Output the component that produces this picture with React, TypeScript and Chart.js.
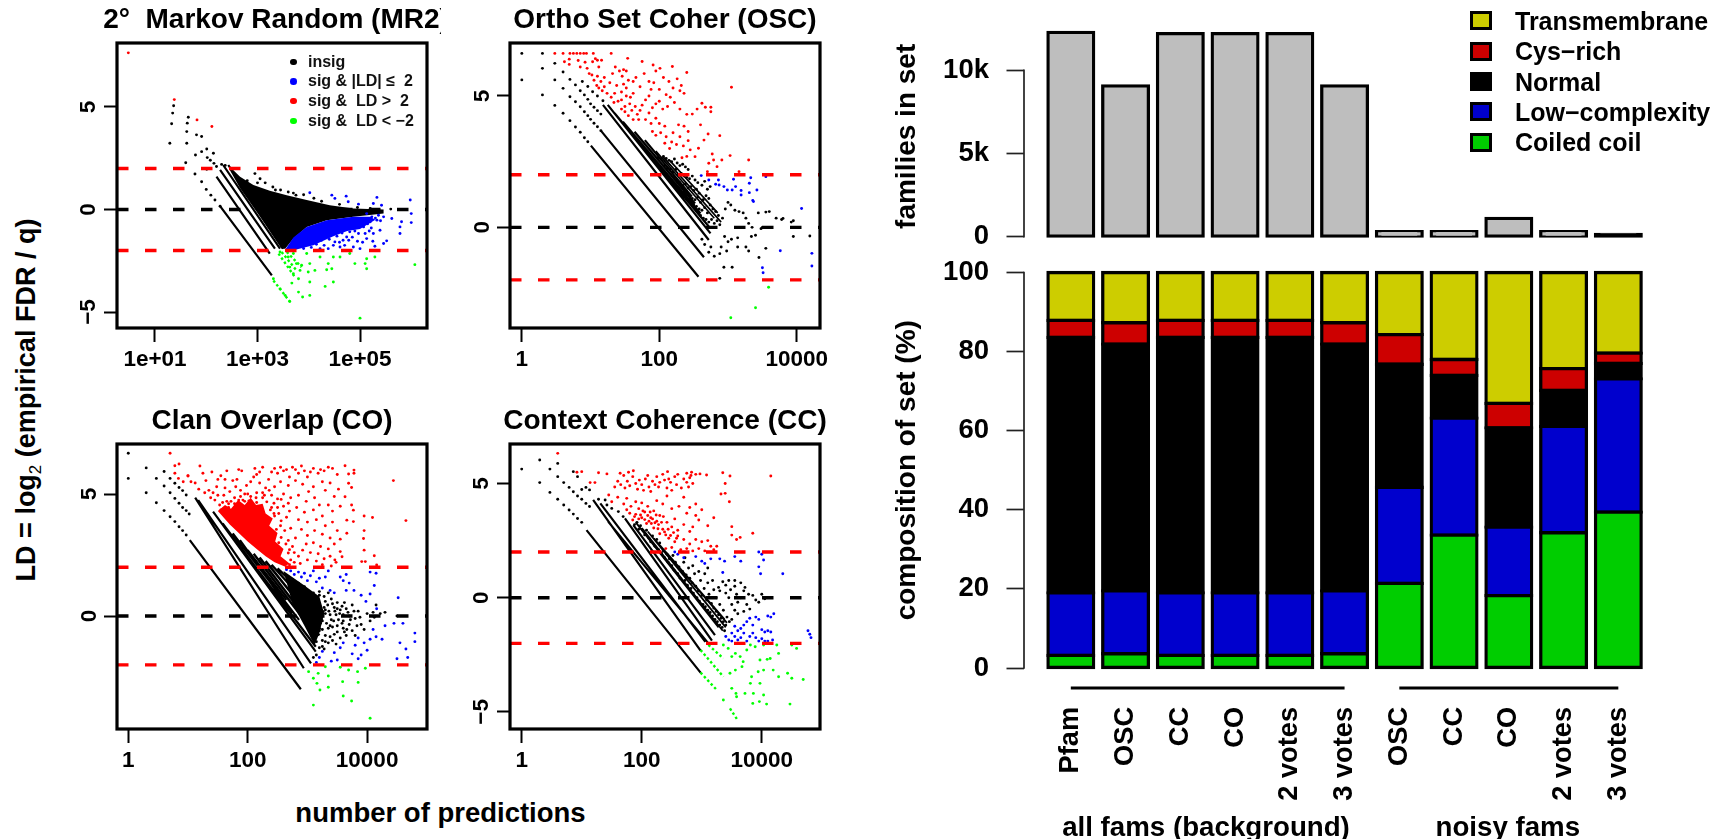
import React, { useEffect, useRef } from "react";
import { Chart, registerables } from "chart.js";
Chart.register(...registerables);

const F = "'Liberation Sans', Arial, sans-serif";
type P = number[];

// ---------- 2° Markov Random (x = log10 of number of predictions, y = LD) ----------
const mr2Red: P[] = [[.48,7.64],[1.377,5.36],[1.82,4.37],[2.11,4.05]];
const mr2Black: P[] = [[1.364,5.06],[1.345,4.7],[1.325,4.18],[1.29,3.23],[1.65,4.5],[1.63,4.21],[1.62,3.8],[1.62,3.23],[1.81,3.64],[1.91,3.56],[1.6,2.28],[1.79,2.66],[1.78,1.73],[1.91,2.82],[2.01,2.95],[2.02,2.53],[2.14,2.74],[2.15,2.25],[2.01,1.96],[1.91,1.35],[2,.98],[2.09,.7],[2.17,.46],[2.27,.16],[2.08,2.4],[2.2,2.1],[2.3,2.2],[2.37,2.15],[2.95,1.75],[3.05,1.5],[3.15,1.3],[3.3,1.1],[3.45,.95],[3.6,.85],[3.75,.7],[3.9,.72],[4.1,.55],[4.25,.4],[4.6,.25],[4.95,.1],[5.2,.05],[5.6,.02],[5.8,0],[2.8,1.4],[3,1.3],[3.35,.95],[3.7,.8]];
const mr2Lines: P[] = [[2.27,.16,3.28,-3.21],[2.2,1.6,3.24,-2.15],[2.27,1.93,3.34,-1.91],[2.33,2.17,3.44,-1.91],[2.43,2.17,3.5,-1.91]];
const mr2BlackArea: P[] = [[2.46,2.09],[2.66,1.6],[2.92,1.19],[3.24,.91],[3.57,.7],[3.96,.46],[4.41,.21],[4.87,.05],[5.46,0],[5.46,-.2],[4.87,-.36],[4.35,-.52],[3.96,-.85],[3.7,-1.42],[3.54,-1.91],[3.47,-1.91],[3.05,-.36],[2.66,1.03],[2.46,1.93]];
const mr2BlueArea: P[] = [[3.54,-1.96],[3.7,-1.37],[3.96,-.85],[4.35,-.52],[4.87,-.36],[5.2,-.36],[5.3,-.5],[5.0,-.95],[4.75,-1.05],[4.48,-1.3],[4.09,-1.75],[3.7,-1.99]];
const mr2Blue: P[] = [[4.02,.82],[4.45,.7],[4.51,.54],[4.73,.65],[4.77,.38],[4.97,.26],[5.33,.59],[5.26,.29],[5.42,.21],[5.98,.46],[5.86,0],[6,-.2],[6,-.64],[5.81,-.6],[5.78,-.85],[5.78,-1.17],[5.62,-.44],[5.52,-1.53],[5.46,-1.66],[5.29,-1.79],[5.39,-1.01],[5.26,-1.17],[5.13,-1.42],[5,-1.91],[4.87,-1.83],[4.74,-1.34],[4.61,-1.83],[4.51,-1.58],[4.38,-1.91],[4.22,-1.91],[5.07,-.85],[5.2,-.6],[5.33,-.52],[5.46,-.36],[4.94,-.52],[4.8,-1.09],[4.67,-1.5],[4.48,-1.75],[4.97,-1.17],[5.23,-.36],[5.36,-.28],[5.13,-.2],[4.87,-.69],[5.1,-1.17],
[3.9,-1.9],[4.05,-1.85],[4.15,-1.7],[4.3,-1.75],[4.25,-1.5],[4.4,-1.45],[4.55,-1.3],[4.65,-1.15],[4.6,-1.6],[4.75,-.95],[4.85,-1.35],[4.9,-1.05],[5,-.65],[5.05,-.45],[5.15,-.7],[5.22,-.9],[5.3,-.42],[5.18,-1.05],[5.4,-.55],[5.05,-1.6],[4.95,-1.55],[4.7,-1.75],[4.78,-1.5],[5.25,-1.55]];
const mr2Green: P[] = [[5,-5.3],[6.07,-2.69],[5.29,-2.32],[5.13,-2.4],[4.9,-2.64],[5.1,-2.64],[5.13,-2.89],[4.8,-2.15],[4.61,-2.32],[4.48,-2.32],[4.38,-2.64],[4.45,-2.89],[4.35,-2.94],[4.22,-2.32],[4.12,-2.97],[4.02,-2.64],[3.99,-3.05],[3.86,-2.72],[3.83,-2.97],[3.76,-2.64],[3.96,-2.15],[3.7,-2.15],[3.6,-2.32],[3.44,-2.07],[3.63,-2.81],[3.7,-3.13],[3.8,-3.38],[3.67,-3.59],[4.02,-3.54],[4.48,-3.54],[4.32,-3.75],[4.02,-4.19],[3.88,-4.27],[3.8,-4.03],[3.63,-4.49],[3.54,-4.19],[3.44,-3.87],[3.31,-3.38]];
const mr2GreenLines: P[] = [[3.31,-3.46,3.63,-4.49],[3.41,-2.15,3.73,-3.3],[3.47,-2.07,3.76,-2.97],[3.57,-2.07,3.86,-2.81]];

// ---------- Ortho Set Coher ----------
const oscRed: P[] = [[.48,6.62],[.6,6.62],[.7,6.62],[.75,6.62],[.8,6.62],[.85,6.62],[.9,6.62],[.94,6.62],[1.04,6.62],[1.3,6.62],[1.54,6.43],[1.75,6.31],[1.91,6.18],[2.01,6.05],[2.19,6.12],[2.4,5.89],[3.05,5.33],[2.62,4.72],[2.67,4.57],[2.75,4.57],[2.75,4.4],[2.48,4.31],[2.6,3.9],[2.71,3.55],[2.88,3.49],[2.65,3.32],[2.57,3.01],[2.52,2.69],[2.77,2.79],[2.79,2.56],[3.03,2.73],[3.3,2.56],[2.91,2.56],[2.84,2.31],[2.72,2.44],[2.7,2.12],[3.16,2.12],
[.62,6.3],[.69,6.4],[.69,6.2],[.82,6.35],[.85,6.1],[.92,6.28],[.95,6.05],[.98,5.85],[1.03,6.3],[1.07,6.42],[1.1,6.36],[1.16,6.36],[1.12,6.1],[1.02,5.8],[1.05,5.6],[1.1,5.75],[1.15,5.55],[1.2,5.7],[1.09,5.4],[1.12,5.3],[1.17,5.2],[1.2,5.35],[1.24,5.1],[1.28,5.5],[1.32,5.85],[1.36,6.1],[1.42,5.95],[1.48,6],[1.52,5.95],[1.46,5.75],[1.55,5.6],[1.48,5.45],[1.52,5.3],[1.45,5.15],[1.38,5.4],[1.35,5.1],[1.3,4.95],[1.34,4.75],[1.4,4.8],[1.45,4.85],[1.52,5],[1.58,4.95],[1.62,5.1],[1.57,4.7],[1.5,4.6],[1.45,4.5],[1.5,4.4],[1.55,4.25],[1.6,4.45],[1.65,4.6],[1.68,4.3],[1.62,4.1],[1.7,4.1],[1.72,4.45],[1.75,4.65],[1.8,4.85],[1.85,5],[1.88,5.25],[1.92,5.5],[1.85,5.55],[1.72,5.35],[1.66,5.7],[1.62,5.55],[1.78,5.85],[1.95,5.95],[2.06,5.7],[2.14,5.55],[2.2,5.3],[2.3,5.2],[2.32,5.4],[2.26,5.65],[2.36,5.1],[2,5.25],[2.1,5.05],[2.16,4.95],[2,4.8],[1.95,4.7],[1.9,4.55],[2.05,4.5],[2.12,4.6],[2.22,4.75],[2.3,4.5],[2.4,4.3],[2.55,4.5],[1.85,4.35],[1.8,4.1],[1.88,3.95],[1.95,4.15],[2,3.95],[1.9,3.65],[1.95,3.5],[2.02,3.6],[2.08,3.85],[2.1,3.45],[2.18,3.25],[2.2,3.6],[2.28,3.9],[2.36,3.85],[2.42,3.65],[2.3,3.45],[2.25,3.15],[2.35,3.1],[2.42,3.3],[2.45,2.95],[2.4,2.7],[2.33,2.65],[2.15,3],[2.08,3.2]];
const oscBlack: P[] = [[0,6.62],[0,5.61],[.3,6.62],[.3,6.05],[.3,5.04],[.48,6.24],[.48,5.61],[.48,4.64],[.6,5.91],[.6,5.29],[.6,4.34],[.7,5.63],[.7,4.97],[.7,4.06],[.78,5.42],[.78,4.78],[.78,3.82],[.85,5.2],[.85,4.59],[.85,3.62],[.91,5.04],[.91,4.4],[.91,3.41],[.96,4.87],[.96,4.25],[.96,3.26],[1,4.7],[1,4.11],[1.05,4.57],[1.05,3.96],[1.1,4.44],[1.1,3.83],[1.15,4.31],[1.15,3.68],[.88,5.55],[.96,5.36],[1.03,5.16],[1.1,5],[1.18,4.82],
[1.98,2.65],[2.02,2.6],[2.06,2.7],[2.1,2.62],[2.14,2.55],[2.18,2.5],[2.22,2.6],[2.26,2.45],[2.3,2.35],[2.34,2.4],[2.38,2.3],[2.42,2.2],[2.08,2.35],[2.12,2.25],[2.16,2.2],[2.2,2.1],[2.24,2.2],[2.28,2],[2.32,2.05],[2.36,1.95],[2.4,1.9],[2.44,1.85],[2.48,1.95],[2.52,1.8],[2.56,1.7],[2.22,1.9],[2.26,1.75],[2.3,1.7],[2.34,1.6],[2.38,1.65],[2.42,1.5],[2.46,1.55],[2.5,1.4],[2.54,1.45],[2.58,1.3],[2.62,1.6],[2.66,1.75],[2.7,1.45],[2.74,1.55],[2.36,1.35],[2.4,1.25],[2.44,1.2],[2.48,1.1],[2.52,1.05],[2.56,1.15],[2.6,.95],[2.64,1.05],[2.68,1.2],[2.72,1.1],[2.5,.85],[2.54,.8],[2.58,.7],[2.62,.65],[2.66,.75],[2.7,.55],[2.74,.85],[2.78,.7],[2.82,.6],[2.86,.45],[2.6,.45],[2.64,.35],[2.68,.3],[2.72,.2],[2.76,.3],[2.8,.15],[2.84,.25],[2.88,.1],[2.92,.35],[2.96,.7],[3,.95],[3.04,.85],[3.1,.65],[3.16,.6],[3.22,.55],[3.26,.35],[3.3,.15],[3.35,0],[3.44,.55],[3.55,.58],[3.6,.6],[3.7,.35],[3.78,.3],[3.92,.2],[3.5,0],[3.48,-.05],[3.4,-.3],[3.34,-.35],[3.26,-.75],[3.14,-.4],[3.05,-.45],[3,-.55],[2.95,-.35],[2.9,-.75],[2.88,-1],[2.8,-1.1],[2.72,-.95],[2.66,-.65],[2.62,-.45],[2.75,-.75],[2.98,-.9],[3.14,-.75],[3.3,-.9],[3.45,-1.15],[3.55,-.8],[3.95,-.35],[2.94,-1.52],[3.06,-1.52],[2.88,-1.94],[4.19,-.33],[3.8,.34],[3.95,.25]];
const oscLines: P[] = [[1.005,3.11,2.57,-1.88],[1.15,3.68,2.65,-1.14],[1.18,4.66,2.72,-.48],[1.25,4.66,2.745,-.23],[1.35,4.34,2.72,.03],[1.47,4.02,2.6,.53],[1.64,3.64,2.52,.91],[1.79,3.32,2.475,1.17]];
const oscBand: P[] = [[1.95,2.9,2.8,.35],[2.05,2.7,2.9,.2],[2.15,2.55,2.85,.55]];
const oscBlue: P[] = [[2.61,1.97],[2.72,1.8],[2.86,1.8],[2.82,1.64],[2.87,1.61],[2.94,1.55],[2.99,1.42],[3.08,1.83],[3.11,1.55],[3.06,1.42],[3.19,1.4],[3.31,1.68],[3.31,1.32],[3.42,1.42],[3.33,1.89],[3.19,1.23],[3.36,1.02],[3.37,.98],[3.55,1.93],[4.07,.72],[3.76,-.89],[4.22,-.99],[4.22,-1.47],[3.5,-1.54],[3.51,-1.73]];
const oscGreen: P[] = [[3.04,-3.44],[3.4,-3.06],[3.59,-2.28]];

// ---------- Clan Overlap ----------
const coRed: P[] = [[.7,6.67],[.85,6.23],[.78,6.16],[.78,5.85],[.84,5.64],[.92,5.5],[1,5.74],[4.44,5.55],[4.65,3.91],[4.09,4.04],[3.95,4.1],[3.95,3.5],[3.94,3.18],[3.95,2.7],[3.91,2.23],[3.97,2.23],[4.12,2.47],[4.16,2.09],[3.78,5.98],[3.78,5.85],[3.63,6.16],[3.69,5.82],[3.69,5.44],[3.74,5.27],[3.63,4.89],[3.74,4.55],[3.77,4.34],[3.66,3.93],[3.77,3.87],[3.66,3.39],[3.55,2.64],[3.58,2.43],[3.46,2.3],
[1,5.75],[1.05,5.5],[1.2,6.15],[1.12,5.45],[1.18,5.2],[1.25,5.85],[1.3,5.55],[1.35,5.15],[1.4,5.9],[1.42,5.05],[1.28,5.05],[1.38,4.85],[1.45,4.75],[1.48,5.3],[1.5,5.6],[1.5,4.95],[1.53,4.55],[1.58,4.65],[1.6,4.95],[1.62,5.25],[1.55,5.75],[1.62,5.6],[1.65,5.95],[1.7,5.1],[1.72,4.7],[1.68,4.45],[1.75,4.3],[1.78,4.85],[1.8,5.3],[1.82,5.6],[1.75,5.55],[1.85,6],[1.9,5.95],[1.88,5.15],[1.92,4.75],[1.95,5],[1.98,5.35],[2,4.55],[2.05,5.5],[2.1,5.7],[2.12,6.05],[2.15,5.8],[2.2,5.9],[2.25,6.1],[2.05,4.9],[2.15,5.05],[2.2,5.45],[2.25,4.85],[2.3,5.25],[2.35,5.6],[2.4,5.9],[2.45,6.05],[2.5,5.85],[2.55,6.1],[2.6,5.95],[2.65,6],[2.7,5.7],[2.75,6.1],[2.8,6],[2.85,5.85],[2.9,6.15],[2.95,5.95],[3,5.7],[3.05,5.9],[3.1,6.05],[3.18,5.85],[3.22,6],[3.28,5.95],[3.35,6.1],[3.42,6.05],[3.5,5.8],[3.25,5.5],[3.1,5.3],[3.02,5.1],[2.92,5.4],[2.8,5.55],[2.68,5.35],[2.55,5.5],[2.45,5.3],[2.4,4.95],[2.5,4.8],[2.6,5],[2.72,4.85],[2.85,4.95],[2.98,4.7],[3.12,4.85],[3.2,4.55],[3.3,5.15],[3.38,5.45],[3.45,4.9],[3.52,5.2],[3.55,4.5],[3.42,4.3],[3.35,4.55],[3.25,4.1],[3.1,4.35],[2.95,4.25],[2.82,4.45],[2.7,4.3],[2.6,4.5],[2.52,4.2],[2.4,4.45],[2.85,3.95],[3,3.85],[3.15,3.95],[3.3,3.7],[3.42,3.85],[3.5,3.5],[3.38,3.2],[3.25,3.35],[3.12,3.5],[3,3.3],[2.9,3.55],[2.98,2.95],[3.1,3],[3.22,2.85],[3.35,2.75],[3.45,2.95],[3.55,3.15],[3.18,2.55],[3.05,2.6],[2.92,2.7],[2.85,2.45],[2.78,2.6],[3.28,2.35],[3.38,2.45],[3.15,2.25],[3,2.3],[2.88,2.15],[2.78,2.2],[2.7,2.1],[3.48,2.2],[3.25,2.1],[3.4,2.05],[2.62,2.2],[2.55,2.3],[1.55,4.35],[1.65,4.7],[1.85,4.75],[2,5],[2.25,5.05],[2.5,4.45],[2.65,4.05],[2.72,3.6],[2.8,3.2],[2.55,3.7],[2.68,3.1],[2.75,2.85],[2.45,4.1],
[2.44,4.2],[2.56,3.9],[2.48,3.55],[2.56,3.22],[2.62,3.5],[2.52,3],[2.64,2.95],[2.7,2.72],[2.68,2.58],[2.72,2.3],[2.32,4.68],[2.44,4.62],[2.56,4.78],[2.68,4.62],[1.88,4.9],[2.02,4.72],[2.14,4.85],[2.28,4.95],[2.36,5.15],[2.15,4.65],[1.95,4.7],[1.68,4.6],[1.78,4.6],[2.38,4.35]];
const coRedArea: P[] = [[1.5,4.3],[1.62,4.55],[1.72,4.4],[1.84,4.75],[1.95,4.55],[2.05,4.85],[2.14,4.55],[2.25,4.6],[2.3,4.2],[2.42,4],[2.36,3.7],[2.5,3.4],[2.46,3.05],[2.6,2.75],[2.55,2.45],[2.7,2.15],[2.62,2.03],[2.45,2.2],[2.3,2.45],[2.15,2.75],[2,3.05],[1.85,3.4],[1.7,3.75]];
const coBlackArea: P[] = [[2.6,1.85],[2.95,1.25],[3.2,.8],[3.28,.1],[3.2,-.7],[3.12,-1.2],[2.95,-.4],[2.75,.5]];
const coBlack: P[] = [[0,6.67],[0,5.64],[.3,6.07],[.3,5.05],[.47,5.64],[.47,4.64],[.6,5.92],[.6,5.33],[.6,4.32],[.7,5.64],[.7,5.05],[.7,4.07],[.78,5.44],[.78,4.82],[.78,3.87],[.85,5.27],[.85,4.62],[.85,3.66],[.91,5.14],[.91,4.45],[.91,3.5],[.97,4.96],[.97,4.32],[.97,3.32],[1.02,4.18],
[2.75,1.5],[2.85,1.35],[2.95,1.2],[3.1,.95],[3.2,.85],[3.3,.6],[3.4,.7],[3.45,.35],[3.5,.55],[3.55,.25],[3.6,.05],[3.65,.3],[3.7,0],[3.75,.45],[3.8,-.1],[3.85,.2],[3.9,-.35],[3.95,-.55],[4,.1],[4.05,-.2],[4.1,.15],[4.12,-.05],[4.15,.45],[4.22,.1],[4.3,.15],[4.5,0],[3.2,.3],[3.25,-.2],[3.3,.1],[3.35,-.5],[3.4,-.15],[3.45,-.75],[3.5,-.4],[3.55,-.9],[3.6,-.5],[3.65,-.8],[3.7,-.35],[3.75,-.6],[3.8,-.8],[3.2,-.6],[3.25,-1],[3.3,-.8],[3.35,-1.1],[3.15,-1.05],[3.2,-1.3],[3.12,.5],[3.18,0],[3.22,-.3],[3.28,.35],[3.36,.2],[3.42,-.45],[3.48,.05],[3.52,-.15],[3.58,-.3],[3.62,-.65],[3.68,.15],[3.72,-.15],[3.78,.2],[3.83,-.4],[3.88,-.05],[3.2,1],[3.28,.8],[3.35,.95],[3.42,.5],[3.5,.3],[3.15,-1.6],[3.1,-1.7],[3.28,-1.35],[3.3,.25],[3.32,-.3],[3.34,.45],[3.38,-.4],[3.38,.05],[3.44,-.2],[3.46,.2],[3.5,-.65],[3.54,.1],[3.58,.4],[3.6,-.2],[3.62,.55],[3.66,-.55],[3.25,-.55],[3.3,-1.05],[3.38,-.85],[3.42,-1.0],[3.48,-1.15],[3.25,-1.25]];
const coLines: P[] = [[1.03,3.11,2.89,-3],[1.12,4.85,2.94,-2.14],[1.17,4.75,3.06,-1.94],[1.42,4.28,3.14,-1.46],[1.58,3.8,3.14,-1.26],[1.75,3.39,2.86,-.16],[1.87,3.11,2.75,.11],[2,2.7,2.65,.66]];
const coBand: P[] = [[2.1,2.55,3.16,-.85],[2.2,2.4,3.2,-.8],[2.3,2.25,3.22,-.55],[2.4,2.1,3.25,-.2],[2.5,1.95,3.28,.15]];
const coBlue: P[] = [[2.65,1.9],[2.72,1.85],[2.78,1.7],[2.85,1.8],[2.9,1.6],[2.95,1.75],[3,1.45],[3.05,1.65],[3.1,1.85],[3.15,1.4],[3.2,1.55],[3.25,1.15],[3.3,1.6],[3.35,1.85],[3.38,1.05],[3.45,.95],[3.55,1.6],[3.6,1.45],[3.65,1.7],[3.7,1.35],[3.78,1.05],[3.65,1.05],[3.9,.85],[3.98,.6],[4.05,.9],[4.12,1.25],[4.15,1.75],[4.05,1.8],[4.52,.75],[4.16,.3],[4.6,-.3],[4.45,-.3],[4.8,-.7],[4.8,-1.05],[4.55,-1.1],[4.65,-1.35],[4.68,-1.7],[4.5,-1.75],[4.25,-.95],[4.15,-.85],[4.05,-.95],[3.95,-1.1],[3.85,-.9],[3.8,-1.2],[3.75,-1.55],[3.6,-1.1],[3.55,-1.3],[3.45,-1.5],[3.5,-1.8],[3.4,-1.85],[3.25,-1.45],[3.2,-1.7],[3.15,-1.9],[4,-1.4],[3.9,-1.6],[3.85,-1.75],[4.3,-.4],[4.1,-.55]];
const coGreen: P[] = [[3.1,-3.65],[4.05,-4.19],[3.6,-3.28],[3.74,-3.48],[3.35,-2.92],[3.21,-3.03],[3.59,-2.69],[3.85,-2.72],[3.84,-2.28],[3.97,-2.14],[3.69,-2.21],[3.55,-2.1],[3.35,-2.46],[3.18,-2.35],[3.1,-2.55],[3.02,-2.28],[3.16,-2.76],[3.3,-2.08]];

// ---------- Context Coherence ----------
const ccRed: P[] = [[.6,6.32],[.92,5.49],[1,5.52],[1.14,5.04],[1.22,5.04],[1.28,5.47],[1.42,5.42],[1.64,5.45],[1.78,5.49],[1.86,5.56],[2.43,5.52],[2.83,5.49],[2.97,5.42],[3.08,5.37],[3.35,5.47],[3.47,5.33],[4.15,5.33],[3.46,4.2],[3.39,5],[3.39,4.57],[3.32,4.54],[3.5,3.11],[3.5,2.74],[3.58,2.55],[3.64,2.64],[3.85,2.82],
[1.55,4.85],[1.6,5.1],[1.65,4.95],[1.7,5.35],[1.72,4.8],[1.76,5.1],[1.8,4.9],[1.85,5.3],[1.9,5],[1.93,4.75],[1.96,5.15],[2,4.95],[2.03,4.7],[2.06,5.2],[2.1,5.35],[2.12,4.85],[2.15,4.65],[2.18,5.1],[2.22,4.95],[2.25,5.3],[2.28,4.85],[2.3,5.05],[2.35,5.4],[2.38,5.15],[2.42,4.8],[2.45,5.2],[2.48,5.05],[2.5,4.7],[2.55,5.3],[2.58,4.95],[2.6,5.4],[2.66,4.8],[2.7,5.2],[2.75,5.45],[2.8,5.25],[2.85,5],[2.9,5.4],[2.75,5.05],[2.78,4.85],[2.82,5.35],[1.45,4.5],[1.5,4.2],[1.6,4.4],[1.7,4.1],[1.75,4.35],[1.82,4],[1.9,4.2],[1.95,3.9],[2,4.15],[2.05,3.75],[2.1,4],[2.15,3.5],[2.2,3.8],[2.25,4.25],[2.3,3.6],[2.35,4.1],[2.42,4.45],[2.5,3.9],[2.55,3.45],[2.62,4],[2.7,4.4],[2.75,3.7],[2.8,3.95],[2.9,4.1],[3,3.85],[3.1,3.15],[3.2,3.5],[2.95,3.4],[2.85,3.1],[2.9,3.6],[2.8,2.9],[2.7,3.2],[2.6,2.95],[2.5,3.1],[2.42,3.3],[2.35,3],[2.28,3.2],[2.2,3.05],[1.9,3.65],[1.95,3.45],[2,3.5],[1.85,3.4],[2.08,3.25],[2.12,3.35],[2.18,3.45],[2.25,3.35],[2.3,2.8],[2.4,2.75],[2.45,2.6],[2.55,2.45],[2.6,2.7],[2.7,2.55],[2.8,2.35],[2.9,2.55],[3,2.45],[3.1,2.5],[3.15,2.25],[3.25,2.25],[2.4,2.15],[2.5,2.2],[2.65,2.1],[2.75,2.15],[2.85,2.05],[2.95,2.15],[3.05,2.05],[3.2,2.1],[1.8,3.7],[1.75,3.85],
[1.88,3.55],[1.98,3.62],[2.05,3.42],[2.1,3.6],[2.16,3.25],[2.22,3.28],[2.27,3.02],[2.33,3.3],[2.38,2.88],[2.44,3],[2.48,2.72],[2.53,2.85],[2.58,2.6],[2.02,3.8],[2.14,3.75],[2.24,3.62],[2.36,3.55]];
const ccBlack: P[] = [[0,5.63],[.3,6.03],[.3,5.04],[.47,5.63],[.47,4.61],[.6,5.88],[.6,5.3],[.6,4.31],[.7,5.04],[.7,4.06],[.79,4.83],[.79,3.84],[.86,5.52],[.86,4.64],[.86,3.66],[.93,5.3],[.93,4.45],[.93,3.47],[1,4.74],[1,4.31],[1,3.3],[1.07,4.83],[1.07,4.13],[1.13,4.72],[1.13,3.99],[1.28,4.31],[1.39,4.28],[1.42,4.06],[1.5,3.91],[1.61,3.77],[1.69,3.55],
[1.88,3.2],[1.92,3.3],[1.95,3],[1.98,3.15],[2.02,2.95],[2.05,2.75],[2.08,2.95],[2.12,2.6],[2.15,2.45],[2.18,2.7],[2.22,2.25],[2.25,2.55],[2.28,2.1],[2.3,2.4],[2.33,1.95],[2.36,2.05],[2.38,1.75],[2.42,1.9],[2.44,1.55],[2.46,1.7],[2.5,1.4],[2.52,1.85],[2.54,1.2],[2.56,1.55],[2.6,1.05],[2.62,1.35],[2.64,.85],[2.68,1.15],[2.7,1.55],[2.72,.75],[2.74,1],[2.76,.55],[2.78,1.3],[2.8,.85],[2.82,.4],[2.84,.65],[2.86,.2],[2.88,1.05],[2.9,.5],[2.92,0],[2.94,.3],[2.96,-.15],[2.98,.75],[3,.1],[3.02,-.3],[3.04,.4],[3.06,-.4],[3.08,-.1],[3.1,-.55],[3.12,.15],[3.14,-.65],[3.16,-.25],[3.18,-.8],[3.2,-.45],[3.22,-.95],[3.24,-.6],[3.26,-1.05],[3.28,-.75],[3.3,-1.2],[3.32,-.9],[3.34,-1.3],[3.36,-1.05],[3.38,-1.45],[3.4,-1.2],[3.24,0],[3.3,-.3],[3.36,-.55],[3.42,-.85],[3.46,-1.05],[3.5,-.95],[3.2,.35],[3.3,.3],[3.4,.2],[3.45,0],[3.5,-.3],[3.55,-.55],[3.6,-.2],[3.65,0],[3.7,.3],[3.78,.15],[3.85,.1],[3.9,-.1],[3.95,-.2],[4,.15],[4.05,-.05],[3.35,.7],[3.45,.75],[3.55,.75],[3.65,.65],[3.72,.45],[3.4,.55],[3.55,.5],[3.8,-.5],[3.75,-.3],[3.6,-.7],[3.7,-.6],[3.48,.35],[3.58,.15],[3.28,.45],[2.72,1.75],[2.85,1.4],[2.95,1.15],[3.05,1.05],[3.1,.65],[3.18,.75],[3.1,1.3]];
const ccLines: P[] = [[1.08,2.96,2.98,-3.28],[1.19,4.28,2.98,-2.32],[1.31,4.13,3.06,-1.93],[1.44,3.33,3.11,-2],[1.72,3.47,3.17,-1.88],[1.86,3.18,3.22,-1.64]];
const ccBand: P[] = [[1.9,3.3,3.28,-1.3],[2,3.05,3.35,-1.45],[2.1,2.9,3.4,-1.3],[2.2,2.6,3.35,-.9],[2.3,2.3,3.38,-.95],[2.42,1.95,3.42,-1.1]];
const ccBlue: P[] = [[2.55,2],[2.6,1.9],[2.7,1.75],[2.9,1.8],[3,1.6],[3.05,1.5],[3.15,1.7],[3.3,1.7],[3.38,1.6],[3.55,1.8],[3.65,1.6],[3.95,2],[4,1.9],[4.03,1.65],[4.35,1.05],[3.95,1.35],[3.98,1.05],[3.35,1.1],[3.55,-1.25],[3.6,-1.45],[3.65,-1.35],[3.7,-1.2],[3.75,-1.05],[3.8,-.9],[3.85,-1.2],[3.9,-.85],[3.95,-.95],[4,-1.4],[4.05,-1.5],[3.4,-1.7],[3.45,-1.85],[3.5,-1.9],[3.5,-1.55],[3.55,-1.7],[3.6,-1.85],[3.65,-1.75],[3.7,-1.55],[3.75,-1.9],[3.8,-1.7],[3.85,-1.55],[3.9,-1.75],[3.95,-1.9],[4,-1.8],[4.1,-.8],[4.15,-.85],[4.2,-.7],[4.1,-1.45],[4.15,-1.5],[4.18,-1.85],[4.1,-1.9],[4.05,-1.9],[4.77,-1.45],[4.8,-1.6],[4.82,-1.75]];
const ccGreen: P[] = [[4.69,-3.58],[4.47,-4.66],[4.43,-3.31],[4.5,-3.53],[4.5,-2.07],[4.58,-2.22],[4.28,-2.44],[4.09,-2.7],[3.97,-2.73],[4.08,-4.66],[3.96,-4.55],[3.85,-4.63],[4.03,-4.26],[4.28,-3.46],[4.19,-3.17],[4.03,-3.17],[3.94,-3.24],[3.83,-3.46],[3.81,-3.75],[3.97,-3.75],[3.86,-4.19],[3.72,-4.19],[3.58,-4.34],[3.5,-3.97],[3.36,-4.48],[3.57,-4.19],[3.47,-3.31],[3.56,-3.17],[3.67,-3.02],[3.69,-2.8],[3.64,-2.58],[3.56,-2.44],[3.5,-2.58],[3.44,-2.22],[3.36,-2.07],[3.75,-2.29],[3.81,-2.07],[3.89,-2.15],[4.03,-2.07],[4.14,-2.66],[4.25,-2.07]];
const ccGreenLines: P[] = [[2.98,-2.29,3.36,-3.46],[2.98,-3.28,3.25,-4.04],[3.11,-2.07,3.36,-2.66],[3.47,-4.85,3.59,-5.33]];

// ---------- Bars ----------
const barLabels = ["Pfam", "OSC", "CC", "CO", "2 votes", "3 votes", "OSC", "CC", "CO", "2 votes", "3 votes"];
const familiesInSet = [12280, 9060, 12200, 12200, 12200, 9060, 300, 300, 1100, 300, 140];
const familyTicks = [0, 5000, 10000];
const compTicks = [0, 20, 40, 60, 80, 100];
const coiled = [3.2, 3.6, 3.2, 3.2, 3.2, 3.6, 21.4, 33.6, 18.3, 34.2, 39.4];
const lowComplexity = [15.8, 15.9, 15.8, 15.8, 15.8, 15.9, 24.3, 29.6, 17.3, 26.9, 33.7];
const normal = [64.6, 62.4, 64.6, 64.6, 64.6, 62.4, 31.1, 10.8, 25.1, 9.1, 3.9];
const cysRich = [4.3, 5.4, 4.3, 4.3, 4.3, 5.4, 7.5, 4, 6.2, 5.5, 2.6];
const transmembrane = [12.1, 12.7, 12.1, 12.1, 12.1, 12.7, 15.7, 22, 33.1, 24.3, 20.4];
const legendNames = ["Transmembrane", "Cys\u2212rich", "Normal", "Low\u2212complexity", "Coiled coil"];
const legendColors = ["#cdcd00", "#cd0000", "#000000", "#0000cd", "#00cd00"];
const inLegendNames = ["insig", "sig & |LD| \u2264  2", "sig &  LD >  2", "sig &  LD < \u22122"];
const inLegendColors = ["#000", "#0000ff", "#ff0000", "#00ff00"];

const pts = (a: P[]) => a.map(([x, y]) => ({ x, y }));
const segs = (a: P[]) => a.flatMap(([a1, b1, a2, b2]) => [{ x: a1, y: b1 }, { x: a2, y: b2 }, { x: NaN, y: NaN }]);
const dots = (d: P[], color: string) => ({ data: pts(d), backgroundColor: color, borderColor: color, pointRadius: 1.45, pointBorderWidth: 0, showLine: false });
const streak = (d: P[], color: string, w = 2.2, dash: number[] = []) => ({ data: segs(d), borderColor: color, borderWidth: w, borderDash: dash, pointRadius: 0, showLine: true, spanGaps: false });
const area = (d: P[], color: string) => ({ data: pts(d), backgroundColor: color, borderColor: color, borderWidth: 0, pointRadius: 0, showLine: true, fill: "shape" });

const frame = { id: "frame", afterDraw(c: any) { const { left, top, width, height } = c.chartArea; const g = c.ctx; g.save(); g.strokeStyle = "#000"; g.lineWidth = 3.2; g.strokeRect(left, top, width, height); g.restore(); } };
const axisLine = { id: "axisLine", afterDraw(c: any) { const s = c.scales.y; const v = s.ticks.map((t: any) => t.value); const g = c.ctx; g.save(); g.strokeStyle = "#222"; g.lineWidth = 1.7; g.beginPath(); g.moveTo(c.chartArea.left, s.getPixelForValue(v[0]) + 0.85); g.lineTo(c.chartArea.left, s.getPixelForValue(v[v.length - 1]) - 0.85); g.stroke(); g.restore(); } };

function scatterConfig(o: any) {
  const hline = (y: number, color: string) => ({ data: [{ x: o.xr[0], y }, { x: o.xr[1], y }], borderColor: color, borderWidth: 3.4, borderDash: [11.5, 16.5], pointRadius: 0, showLine: true });
  return {
    type: "scatter",
    data: { datasets: [hline(2, "#ff0000"), hline(-2, "#ff0000"), hline(0, "#000"), ...o.sets] },
    plugins: [frame],
    options: {
      responsive: false, animation: false, events: [],
      layout: { padding: 0 },
      plugins: {
        legend: { display: false }, tooltip: { enabled: false },
        title: { display: true, text: o.title, color: "#000", font: { family: F, size: 28, weight: "bold", lineHeight: 1.2 }, padding: { top: 3.7, bottom: 5.7 } },
      },
      scales: {
        x: {
          type: "linear", min: o.xr[0], max: o.xr[1],
          afterBuildTicks(s: any) { s.ticks = o.xt.map((value: number) => ({ value })); },
          afterFit(s: any) { s.height = 60; s.paddingLeft = 0; s.paddingRight = 0; },
          border: { display: false },
          grid: { drawOnChartArea: false, tickLength: 14, tickWidth: 2, tickColor: "#000" },
          ticks: { autoSkip: false, maxRotation: 0, color: "#000", padding: 4, font: { family: F, size: 22.5, weight: "bold" }, callback: (v: number) => o.xl[o.xt.indexOf(v)] },
        },
        y: {
          type: "linear", position: "left", min: o.yr[0], max: o.yr[1],
          afterBuildTicks(s: any) { s.ticks = o.yt.map((value: number) => ({ value })); },
          afterFit(s: any) { s.width = 57; s.paddingTop = 0; s.paddingBottom = 0; },
          border: { display: false },
          grid: { drawOnChartArea: false, tickLength: 13, tickWidth: 2, tickColor: "#000" },
          ticks: { autoSkip: false, minRotation: 90, maxRotation: 90, crossAlign: "center", padding: o.yt[0] < 0 ? 2 : 8, color: "#000", font: { family: F, size: 22.5, weight: "bold" }, callback: (v: number) => (v < 0 ? "\u2212" + -v : String(v)) },
        },
        y2: {
          type: "linear", position: "right", display: true,
          afterFit(s: any) { s.width = o.rightPad || 57; s.paddingTop = 0; s.paddingBottom = 0; },
          border: { display: false }, grid: { display: false }, ticks: { display: false },
        },
      },
    },
  };
}

const panels = [
  { left: 60, top: 0, width: 432, rightPad: 65, clipRight: 51, title: "2\u00B0  Markov Random (MR2)", xr: [.259, 6.307], yr: [-5.78, 8.12], xt: [1, 3, 5], xl: ["1e+01", "1e+03", "1e+05"], yt: [-5, 0, 5],
    sets: [dots(mr2Red, "#ff0000"), streak(mr2GreenLines, "#00ff00", 2.4, [2.5, 2.5]), dots(mr2Green, "#00ff00"), dots(mr2Blue, "#0000ff"), area(mr2BlueArea, "#0000ff"), dots(mr2Black, "#000"), streak(mr2Lines, "#000"), area(mr2BlackArea, "#000")] },
  { left: 453, top: 0, width: 424, title: "Ortho Set Coher (OSC)", xr: [-.172, 4.338], yr: [-3.83, 7.015], xt: [0, 2, 4], xl: ["1", "100", "10000"], yt: [0, 5],
    sets: [dots(oscGreen, "#00ff00"), dots(oscBlue, "#0000ff"), dots(oscRed, "#ff0000"), dots(oscBlack, "#000"), streak(oscLines, "#000"), streak(oscBand, "#000", 1.6)] },
  { left: 60, top: 401, width: 424, title: "Clan Overlap (CO)", xr: [-.189, 5.003], yr: [-4.63, 7.05], xt: [0, 2, 4], xl: ["1", "100", "10000"], yt: [0, 5],
    sets: [dots(coGreen, "#00ff00"), dots(coBlue, "#0000ff"), dots(coRed, "#ff0000"), area(coRedArea, "#ff0000"), dots(coBlack, "#000"), streak(coLines, "#000"), streak(coBand, "#000", 2.4), area(coBlackArea, "#000")] },
  { left: 453, top: 401, width: 424, title: "Context Coherence (CC)", xr: [-.195, 4.97], yr: [-5.75, 6.73], xt: [0, 2, 4], xl: ["1", "100", "10000"], yt: [-5, 0, 5],
    sets: [streak(ccGreenLines, "#00ff00", 2.4, [2.5, 2.5]), dots(ccGreen, "#00ff00"), dots(ccBlue, "#0000ff"), dots(ccRed, "#ff0000"), dots(ccBlack, "#000"), streak(ccLines, "#000"), streak(ccBand, "#000", 1.8)] },
];

const xScaleBars = { type: "linear", min: -0.855, max: 10.5, stacked: true, offset: false };
const barInk = { borderColor: "#000", borderWidth: 3.3, borderSkipped: false, inflateAmount: 1.65, barThickness: 45.7, clip: false };
const leftY = {
  afterFit(s: any) { s.width = 144; s.paddingTop = 0; s.paddingBottom = 0; },
  border: { display: false },
  grid: { drawOnChartArea: false, tickLength: 17.5, tickWidth: 1.7, tickColor: "#222" },
};
const yTickFont = { family: F, size: 27.5, weight: "bold" };
const yTitle = (text: string) => ({ display: true, text, color: "#000", font: { family: F, size: 28, weight: "bold" }, padding: { top: 10, bottom: 0 } });

const familiesConfig = {
  type: "bar",
  data: { datasets: [{ data: familiesInSet.map((y, x) => ({ x, y })), backgroundColor: familiesInSet.map((v) => (v < 200 ? "#000" : "#bebebe")), ...barInk }] },
  plugins: [axisLine],
  options: {
    responsive: false, animation: false, events: [],
    layout: { padding: { top: 36, bottom: 13.3, right: 79.3 } },
    plugins: { legend: { display: false }, tooltip: { enabled: false } },
    scales: {
      x: { ...xScaleBars, display: false },
      y: {
        min: 0, max: 12060, ...leftY,
        afterBuildTicks(s: any) { s.ticks = familyTicks.map((value) => ({ value })); },
        title: yTitle("families in set"),
        ticks: { autoSkip: false, padding: 17.5, color: "#000", font: yTickFont, callback: (v: number) => (v === 0 ? "0" : v / 1000 + "k") },
      },
    },
  },
};

const series: [number[], string][] = [[coiled, legendColors[4]], [lowComplexity, legendColors[3]], [normal, legendColors[2]], [cysRich, legendColors[1]], [transmembrane, legendColors[0]]];
const compositionConfig = {
  type: "bar",
  data: {
    datasets: [
      ...series.map(([v, c]) => ({ stack: "bars", data: v.map((y, x) => ({ x, y })), backgroundColor: c, ...barInk })),
      { type: "line", stack: "g1", data: [{ x: 0, y: -5.06 }, { x: 5, y: -5.06 }], borderColor: "#000", borderWidth: 3.2, pointRadius: 0, clip: false },
      { type: "line", stack: "g2", data: [{ x: 6, y: -5.06 }, { x: 10, y: -5.06 }], borderColor: "#000", borderWidth: 3.2, pointRadius: 0, clip: false },
    ],
  },
  plugins: [axisLine],
  options: {
    responsive: false, animation: false, events: [],
    layout: { padding: { top: 22.5, right: 79.3 } },
    plugins: { legend: { display: false }, tooltip: { enabled: false } },
    scales: {
      x: {
        ...xScaleBars,
        afterBuildTicks(s: any) { s.ticks = barLabels.map((_, value) => ({ value })); },
        afterFit(s: any) { s.height = 171; s.paddingLeft = 0; s.paddingRight = 0; },
        border: { display: false },
        grid: { display: false, drawTicks: false },
        ticks: { autoSkip: false, minRotation: 90, maxRotation: 90, padding: 38.8, color: "#000", font: { family: F, size: 27.3, weight: "bold" }, callback: (v: number) => barLabels[v] },
      },
      y: {
        min: 0, max: 100, stacked: true, ...leftY,
        afterBuildTicks(s: any) { s.ticks = compTicks.map((value) => ({ value })); },
        title: yTitle("composition of set (%)"),
        ticks: { autoSkip: false, padding: 17.5, color: "#000", font: yTickFont },
      },
    },
  },
};

function ChartCanvas({ config, width, height, style }: any) {
  const ref = useRef<HTMLCanvasElement>(null);
  useEffect(() => {
    const chart = new Chart(ref.current as any, config);
    return () => chart.destroy();
  }, [config]);
  return <canvas ref={ref} width={width} height={height} style={{ position: "absolute", display: "block", ...style }} />;
}

const text = (left: number, top: number, size: number, content: any, extra: any = {}) => (
  <div style={{ position: "absolute", left, top, fontSize: size, fontWeight: "bold", lineHeight: 1, whiteSpace: "pre", color: "#000", transform: "translate(-50%,-50%)", ...extra }}>{content}</div>
);
const scatterConfigs = panels.map(scatterConfig);

export default function App() {
  return (
    <div style={{ position: "absolute", left: 0, top: 0, width: 1725, height: 839, overflow: "hidden", background: "#fff", fontFamily: F }}>
      {panels.map((p, i) => (
        <ChartCanvas key={i} config={scatterConfigs[i]} width={p.width} height={388}
          style={{ left: p.left, top: p.top, clipPath: p.clipRight ? `inset(0 ${p.clipRight}px 0 0)` : undefined }} />
      ))}
      {text(26, 400, 27, <span>LD = log<sub style={{ fontSize: 17, fontWeight: "normal", lineHeight: 0 }}>2</sub> (empirical FDR / q)</span>, { transform: "translate(-50%,-50%) rotate(-90deg)" })}
      {text(440.5, 813, 27.5, "number of predictions")}
      {inLegendNames.map((n, i) => (
        <React.Fragment key={n}>
          <div style={{ position: "absolute", left: 290, top: 58.5 + i * 19.7, width: 6.5, height: 6.5, borderRadius: "50%", background: inLegendColors[i] }} />
          <div style={{ position: "absolute", left: 308, top: 61.7 + i * 19.7, fontSize: 16, fontWeight: "bold", lineHeight: 1, whiteSpace: "pre", transform: "translateY(-50%)", color: "#111" }}>{n}</div>
        </React.Fragment>
      ))}
      <ChartCanvas config={familiesConfig} width={845} height={250} style={{ left: 880, top: 0 }} />
      <ChartCanvas config={compositionConfig} width={845} height={589} style={{ left: 880, top: 250 }} />
      {legendNames.map((n, i) => (
        <React.Fragment key={n}>
          <div style={{ position: "absolute", left: 1470, top: 11.2 + i * 30.4, width: 21.7, height: 19, boxSizing: "border-box", border: "3.2px solid #000", background: legendColors[i] }} />
          <div style={{ position: "absolute", left: 1515, top: 20.7 + i * 30.4, fontSize: 25, fontWeight: "bold", lineHeight: 1, whiteSpace: "pre", transform: "translateY(-50%)" }}>{n}</div>
        </React.Fragment>
      ))}
      {text(1206, 827, 27.7, "all fams (background)")}
      {text(1507.8, 827, 27.7, "noisy fams")}
    </div>
  );
}
